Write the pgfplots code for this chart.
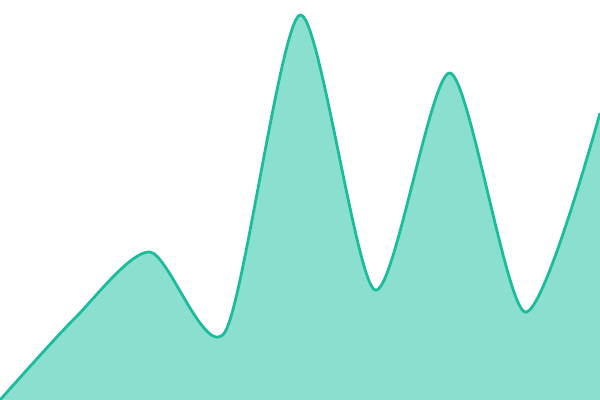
\documentclass[border=0pt]{standalone}
\usepackage{pgfplots}
\pgfplotsset{compat=1.18}
\definecolor{areafill}{HTML}{8ADFCF}
\definecolor{arealine}{HTML}{1ABC9C}
\begin{document}
\begin{tikzpicture}
\begin{axis}[
    hide axis,
    scale only axis,
    width=6in, height=4in,
    xmin=0, xmax=600, ymin=0, ymax=400,
    clip=true,
]
\addplot[smooth, tension=0.45, fill=areafill, draw=none] coordinates {
    (0,0) (75,82) (150,148) (225,68) (300,385) (375,110) (450,327) (525,88) (600,287)
} \closedcycle;
\addplot[smooth, tension=0.45, draw=arealine, line width=2pt] coordinates {
    (0,0) (75,82) (150,148) (225,68) (300,385) (375,110) (450,327) (525,88) (600,287)
};
\end{axis}
\pgfresetboundingbox
\path (current axis.south west) rectangle (current axis.north east);
\end{tikzpicture}
\end{document}
